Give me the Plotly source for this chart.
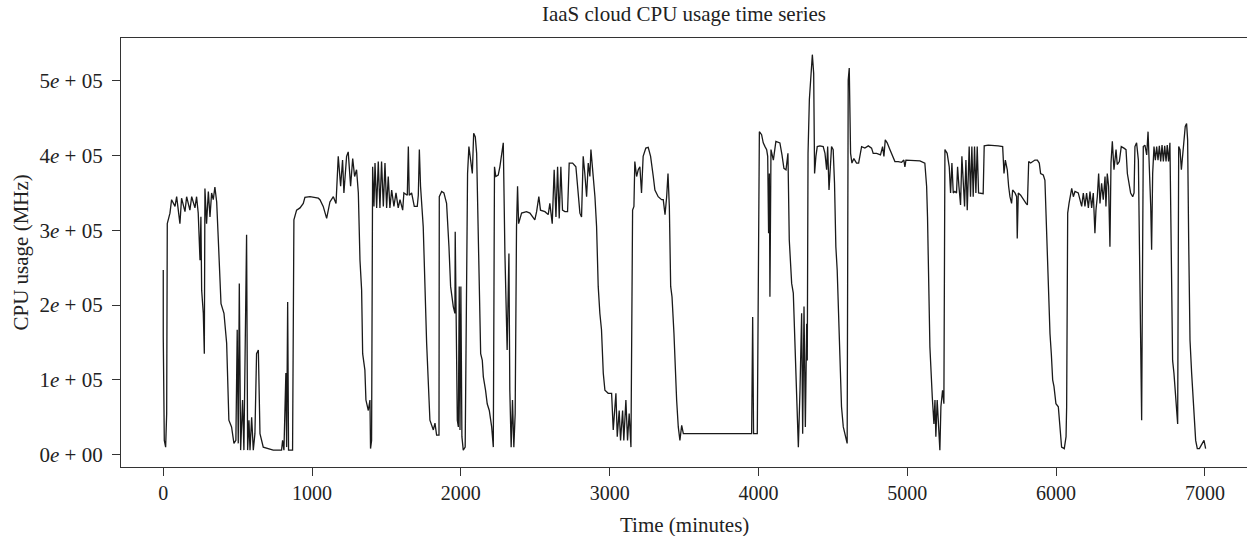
import plotly.graph_objects as go

# Time (minutes) and CPU usage (MHz)
time_min = [
    0, 0, 7, 16, 23, 27, 45, 56, 79, 90, 112, 123, 146, 157, 179, 191, 213, 224, 235, 247,
    253, 258, 269, 276, 280, 291, 303, 314, 325, 336, 347, 359, 370, 381, 388, 408, 426, 441,
    459, 475, 488, 497, 504, 511, 520, 533, 542, 560, 567, 576, 583, 594, 605, 616, 627, 639,
    645, 650, 672, 739, 795, 802, 811, 824, 829, 836, 842, 869, 878, 896, 919, 941, 952, 986,
    1042,
    1053, 1075, 1098, 1120, 1143, 1161, 1176, 1192, 1205, 1214, 1232, 1243, 1259, 1273, 1286,
    1299, 1311, 1322, 1333, 1340, 1355, 1362, 1378, 1389, 1393, 1400, 1407, 1416, 1423, 1434,
    1445, 1456, 1467, 1479, 1490, 1501, 1512, 1523, 1535, 1550, 1564, 1579, 1591, 1609, 1617,
    1640, 1647, 1653, 1669, 1687, 1707, 1714, 1721, 1729, 1747, 1770, 1792, 1815, 1826, 1837,
    1853, 1855, 1871, 1886, 1904, 1920, 1931, 1949, 1960, 1962, 1967, 1976, 1983, 1989, 1994,
    2000, 2007, 2016, 2029, 2039, 2045, 2054, 2065, 2077, 2086, 2097, 2106, 2117, 2133, 2144,
    2151, 2166, 2177, 2191, 2207, 2218,
    2226, 2235, 2251, 2262, 2273, 2285, 2296, 2303, 2311, 2323, 2329, 2338, 2347, 2356, 2365,
    2374, 2381, 2388, 2408, 2441, 2464, 2497, 2509, 2524, 2535, 2565, 2587, 2598, 2614, 2627,
    2639, 2650, 2661, 2672, 2683, 2699, 2717, 2728, 2751, 2773, 2789, 2800, 2811, 2822, 2833,
    2845, 2856, 2867, 2874, 2885, 2901, 2912, 2923, 2934, 2945, 2957, 2968, 2990, 3013, 3024,
    3035, 3042, 3051, 3064, 3073, 3087, 3095, 3109, 3120, 3131, 3143, 3154, 3163, 3169, 3181,
    3192, 3203, 3214, 3225, 3243, 3259, 3275, 3293, 3304, 3326, 3349,
    3360, 3372, 3383, 3392, 3401, 3410, 3419, 3432, 3450, 3461, 3472, 3484, 3495, 3562, 3674,
    3786, 3898, 3954, 3961, 3967, 3992, 4006, 4021, 4032, 4044, 4055, 4062, 4068, 4073, 4077,
    4084, 4100, 4117, 4144, 4158, 4171, 4185, 4198, 4207, 4223, 4234, 4247, 4256, 4268, 4279,
    4290, 4297, 4306, 4315, 4324, 4328, 4333, 4342, 4350, 4362, 4371, 4377, 4386, 4395, 4413,
    4435, 4447, 4458, 4465, 4474,
    4491, 4502, 4511, 4520, 4529, 4543, 4558, 4570, 4588, 4596, 4603, 4610, 4619, 4628, 4641,
    4659, 4673, 4693, 4715, 4738, 4760, 4771, 4794, 4820, 4834, 4843, 4852, 4865, 4883, 4894,
    4906, 4917, 4939, 4962, 4977, 4984, 4991, 5040, 5085, 5118, 5130, 5136, 5152, 5168, 5179,
    5186, 5192, 5201, 5210, 5219, 5226, 5237, 5246, 5253, 5268, 5282, 5291, 5300, 5309, 5320,
    5331, 5338, 5347, 5358, 5367, 5376, 5385, 5394, 5403, 5416, 5425, 5434, 5443, 5452, 5461,
    5470, 5479, 5510, 5517, 5544, 5578, 5611,
    5641, 5650, 5659, 5672, 5681, 5690, 5701, 5708, 5724, 5735, 5739, 5746, 5762, 5780, 5798,
    5807, 5816, 5829, 5843, 5858, 5874, 5887, 5896, 5914, 5925, 5937, 5948, 5959, 5968, 5977,
    5986, 5999, 6015, 6026, 6037, 6055, 6067, 6071, 6078, 6087, 6098, 6105, 6116, 6127, 6149,
    6161, 6172, 6183, 6194, 6205, 6217, 6228, 6239, 6250, 6261, 6268, 6277, 6286, 6295, 6306,
    6317, 6329, 6335, 6344, 6353, 6362, 6369, 6378, 6389, 6403, 6411, 6425, 6438, 6456, 6470,
    6479, 6492, 6501, 6515, 6524, 6530, 6541, 6553, 6559, 6568, 6575, 6582, 6586, 6597, 6609,
    6618, 6627, 6636, 6642, 6649, 6658, 6667, 6676, 6685, 6694, 6703, 6712, 6721, 6730, 6739,
    6747, 6756, 6765, 6774, 6783, 6792, 6806, 6817, 6824, 6833, 6842, 6851, 6860, 6868, 6877,
    6884, 6891, 6900, 6911, 6918, 6927, 6938, 6949, 6963, 6974, 6985, 6994, 7005,
]

cpu_mhz = [
    247000, 158000, 19000, 10000, 55000, 309000, 323000, 341000, 332000, 345000, 309000, 343000,
    325000, 345000, 327000, 345000, 330000, 345000, 323000, 260000,
    318000, 220000, 189000, 135000, 356000, 309000, 352000, 318000, 350000, 341000, 358000,
    338000, 287000, 233000, 202000, 189000, 149000, 46000,
    37000, 15000, 19000, 167000, 15000, 229000, 6000, 73000, 6000, 294000, 6000, 46000, 6000,
    50000, 6000, 28000, 135000, 140000,
    59000, 28000, 10000, 6000, 6000, 19000, 6000, 109000, 10000, 204000, 6000, 6000, 314000,
    327000, 330000, 336000, 344000, 345000,
    343000,
    341000, 332000, 316000, 338000, 345000, 336000, 399000, 359000, 394000, 350000, 399000,
    405000, 359000, 396000, 372000,
    381000, 350000, 260000, 220000, 135000, 113000, 73000, 59000, 73000, 8000, 19000, 385000,
    332000, 390000, 330000,
    392000, 330000, 392000, 332000, 390000, 330000, 372000, 330000, 354000, 332000, 350000,
    330000, 341000, 327000, 350000,
    347000, 412000, 347000, 350000, 332000, 332000, 347000, 408000, 359000, 305000, 149000,
    46000, 33000, 42000, 26000,
    26000, 345000, 352000, 350000, 336000, 278000, 225000, 198000, 189000, 298000, 180000,
    46000, 37000, 225000, 33000,
    225000, 24000, 6000, 10000, 305000, 376000, 412000, 394000, 376000, 430000, 425000, 403000,
    305000, 135000, 126000,
    104000, 86000, 68000, 59000, 37000, 10000,
    385000, 372000, 374000, 385000, 399000, 417000, 269000, 189000, 140000, 269000, 86000,
    10000, 73000, 10000, 55000,
    305000, 359000, 309000, 323000, 325000, 323000, 314000, 325000, 345000, 327000, 325000,
    321000, 336000, 309000, 381000,
    318000, 385000, 316000, 385000, 327000, 325000, 325000, 390000, 390000, 385000, 350000,
    323000, 318000, 399000, 376000,
    345000, 390000, 372000, 408000, 381000, 345000, 305000, 225000, 189000, 167000, 109000,
    86000, 82000, 82000, 33000,
    64000, 82000, 24000, 59000, 19000, 59000, 19000, 73000, 19000, 55000, 10000, 327000,
    332000, 392000, 372000,
    381000, 385000, 350000, 399000, 410000, 411000, 399000, 372000, 354000, 345000, 341000,
    341000, 321000, 345000, 376000, 332000, 225000, 211000, 162000, 73000, 37000, 19000, 39000,
    28000, 28000, 27000,
    27000, 28000, 28000, 184000, 28000, 28000, 432000, 428000, 417000, 412000, 408000, 399000,
    296000, 376000, 211000,
    408000, 394000, 419000, 417000, 401000, 383000, 381000, 403000, 287000, 229000, 216000,
    140000, 64000, 10000, 86000,
    189000, 28000, 198000, 37000, 175000, 126000, 403000, 475000, 497000, 535000, 510000,
    376000, 399000, 412000, 413000,
    412000, 403000, 381000, 412000, 354000,
    412000, 408000, 363000, 278000, 247000, 153000, 64000, 37000, 24000, 15000, 501000, 517000,
    403000, 390000, 396000,
    390000, 390000, 412000, 410000, 413000, 410000, 403000, 403000, 401000, 412000, 399000,
    421000, 417000, 408000, 403000,
    399000, 392000, 392000, 391000, 394000, 385000, 394000, 393000, 393000, 390000, 359000,
    318000, 144000, 77000, 41000,
    73000, 24000, 73000, 41000, 6000, 64000, 86000, 68000, 408000, 403000, 385000, 350000,
    390000, 350000, 352000,
    350000, 385000, 359000, 334000, 399000, 359000, 332000, 394000, 327000, 412000, 345000,
    412000, 345000, 412000, 350000,
    412000, 350000, 349000, 413000, 414000, 414000, 413000,
    412000, 376000, 394000, 381000, 359000, 345000, 336000, 354000, 350000, 345000, 289000,
    350000, 347000, 341000, 336000,
    334000, 392000, 390000, 392000, 394000, 394000, 390000, 376000, 374000, 367000, 287000,
    207000, 162000, 135000, 100000,
    91000, 68000, 64000, 37000, 10000, 8000, 24000, 64000, 323000, 336000, 350000, 356000,
    345000, 352000, 350000,
    341000, 332000, 350000, 332000, 350000, 330000, 352000, 330000, 350000, 296000, 327000,
    345000, 376000, 336000, 363000,
    341000, 372000, 332000, 376000, 359000, 278000, 390000, 419000, 381000, 408000, 388000,
    392000, 412000, 410000, 408000,
    376000, 363000, 350000, 345000, 350000, 412000, 417000, 394000, 287000, 109000, 46000,
    287000, 412000, 414000, 401000,
    432000, 390000, 332000, 274000, 376000, 412000, 394000, 412000, 394000, 413000, 392000,
    414000, 392000, 413000, 392000,
    414000, 392000, 417000, 242000, 126000, 109000, 73000, 41000, 412000, 408000, 381000,
    399000, 421000, 439000, 443000,
    421000, 287000, 153000, 109000, 86000, 41000, 19000, 8000, 8000, 12000, 15000, 19000, 8000,
]

x_ticks = [0, 1000, 2000, 3000, 4000, 5000, 6000, 7000]
x_tick_labels = ["0", "1000", "2000", "3000", "4000", "5000", "6000", "7000"]
y_ticks = [0, 100000, 200000, 300000, 400000, 500000]
y_tick_labels = ["0<i>e</i> + 00", "1<i>e</i> + 05", "2<i>e</i> + 05",
                 "3<i>e</i> + 05", "4<i>e</i> + 05", "5<i>e</i> + 05"]

FONT = "Liberation Serif"
AX = "#333333"
TXT = "#222222"

fig = go.Figure()
fig.add_trace(go.Scatter(
    x=time_min, y=cpu_mhz, mode="lines",
    line=dict(color="#1a1a1a", width=1.3),
    showlegend=False, hoverinfo="skip",
))

fig.update_layout(
    width=1247, height=536,
    margin=dict(l=121, r=0, t=38, b=69),
    paper_bgcolor="white", plot_bgcolor="white",
    font=dict(family=FONT, size=20, color=TXT),
    title=dict(text="IaaS cloud CPU usage time series", x=0.5, xref="paper",
               y=1 - 14 / 536, yanchor="middle", xanchor="center",
               font=dict(family=FONT, size=21, color=TXT)),
    xaxis=dict(range=[-284, 7283], tickvals=x_ticks, ticktext=x_tick_labels,
               ticks="outside", ticklen=8, tickcolor=AX, tickwidth=1,
               showline=True, linecolor=AX, linewidth=1.2, mirror=True,
               showgrid=False, zeroline=False,
               tickfont=dict(family=FONT, size=20, color=TXT)),
    yaxis=dict(range=[-16600, 557300], tickvals=y_ticks, ticktext=y_tick_labels,
               ticks="outside", ticklen=8, tickcolor=AX, tickwidth=1,
               showline=True, linecolor=AX, linewidth=1.2, mirror=False,
               showgrid=False, zeroline=False, ticklabelstandoff=5,
               tickfont=dict(family=FONT, size=21, color=TXT)),
    annotations=[
        dict(text="Time (minutes)", xref="paper", yref="paper", x=(684 - 121) / 1126,
             y=(467 - 525) / 429, xanchor="center", yanchor="middle", showarrow=False,
             font=dict(family=FONT, size=21, color=TXT)),
        dict(text="CPU usage (MHz)", xref="paper", yref="paper", x=(20 - 121) / 1126,
             y=0.5, xanchor="center", yanchor="middle", showarrow=False, textangle=-90,
             font=dict(family=FONT, size=21, color=TXT)),
    ],
)

fig.write_html("out.html", config={"displayModeBar": False},
               post_script="document.body.style.margin='0';document.body.style.overflow='hidden';")
